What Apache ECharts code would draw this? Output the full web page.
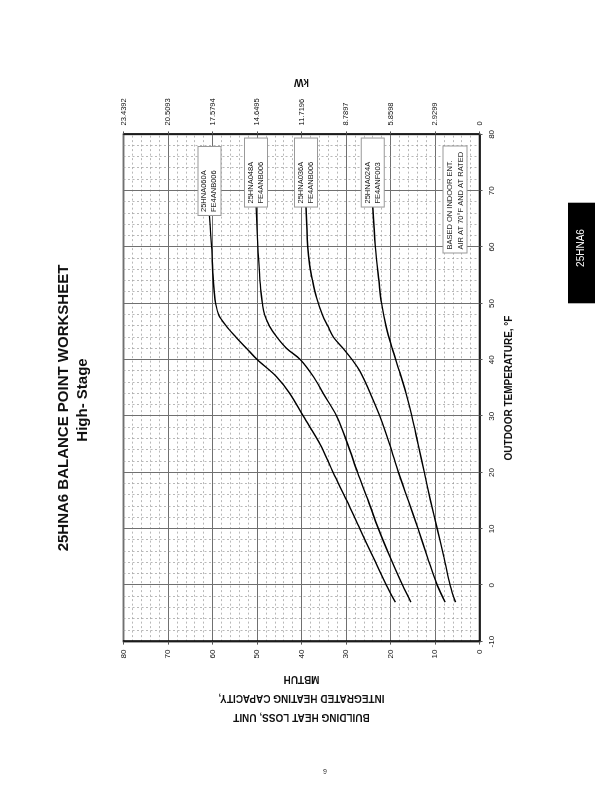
<!DOCTYPE html>
<html><head><meta charset="utf-8">
<script src="https://cdn.jsdelivr.net/npm/echarts@6/dist/echarts.min.js"></script>
<style>
html,body{margin:0;padding:0;background:#fff;width:612px;height:792px;overflow:hidden;}
#c{position:absolute;left:0;top:0;width:792px;height:612px;transform-origin:0 0;transform:translate(0,792px) rotate(-90deg);}
</style></head><body><div id="c"></div>
<script>
// Outdoor temperature (°F) vs integrated heating capacity (MBTUH)
const temp060 = [-3,0,5,10,15,20,25,30,34,37,40,42,44,46,48,50,52,55,60,65.7];
const cap060  = [18.9,20.9,23.9,26.9,29.8,32.9,35.8,39.6,42.6,45.6,49.9,52.3,54.7,56.9,58.6,59.3,59.6,59.9,60.2,60.7];
const temp048 = [-3,0,5,10,15,20,25,30,34,37,40,42,44,46,48,50,52,55,60,67.2];
const cap048  = [15.4,17.3,20.1,22.7,25.0,27.4,29.6,32.1,35.1,37.3,40.2,43.3,45.5,47.2,48.3,48.8,49.1,49.4,49.8,50.2];
const temp036 = [-3,0,5,10,15,20,25,30,34,38,40,42,44,46,48,51,54,57,60,67.2];
const cap036  = [7.7,9.5,11.7,13.8,16.0,18.2,20.2,22.4,24.5,26.9,28.6,30.6,32.8,34.1,35.3,36.6,37.5,38.2,38.6,39.0];
const temp024 = [-3,0,5,10,15,20,25,30,34,38,42,46,50,54,60,67.2];
const cap024  = [5.4,6.6,8.0,9.5,11.0,12.4,13.8,15.2,16.5,18.0,19.6,21.0,22.0,22.6,23.4,24.0];
const unitNames = ['25HNA060A\nFE4ANB006','25HNA048A\nFE4ANB006','25HNA036A\nFE4ANB006','25HNA024A\nFE4ANF003'];
const kwLabels = ['0','2.9299','5.8598','8.7897','11.7196','14.6495','17.5794','20.5093','23.4392'];

const FONT = '"Liberation Sans", Arial, Helvetica, sans-serif';
const chart = echarts.init(document.getElementById('c'));

function mk(t, c){ return t.map((v,i)=>[v,c[i]]); }
const seriesData = [mk(temp060,cap060), mk(temp048,cap048), mk(temp036,cap036), mk(temp024,cap024)];

const series = seriesData.map((d,i)=>({
  type:'line', data:d, smooth:0.35, showSymbol:false, symbol:'none',
  yAxisIndex:0, silent:true,
  lineStyle:{color:'#000', width:1.4},
  endLabel:{show:true, formatter:()=>unitNames[i], distance:0,
    fontFamily:FONT, fontSize:7.5, lineHeight:10, color:'#111',
    backgroundColor:'#fff', borderColor:'#999', borderWidth:1,
    padding:[1,3,1,3], width:62, align:'left'}
}));

const majorSplit = {show:true, lineStyle:{color:'#707070', width:1}};
const minorSplit = {show:true, lineStyle:{color:'#9a9a9a', width:0.7, type:[2,2.5]}};

chart.setOption({
  animation:false,
  backgroundColor:'#fff',
  grid:{left:150.4, right:134.4, top:123.5, bottom:132.5, show:true, borderColor:'#000', borderWidth:1.5, containLabel:false},
  xAxis:{type:'value', min:-10, max:80, interval:10,
    name:'OUTDOOR TEMPERATURE, °F', nameLocation:'middle', nameGap:25,
    nameTextStyle:{fontFamily:FONT, fontSize:10, fontWeight:'bold', color:'#111'},
    axisLine:{show:true, onZero:false, lineStyle:{color:'#000', width:1.5}},
    axisTick:{show:true, length:3, lineStyle:{color:'#555'}},
    axisLabel:{fontFamily:FONT, fontSize:8, color:'#111', margin:8},
    splitLine:majorSplit, minorTick:{show:false, splitNumber:5}, minorSplitLine:minorSplit},
  yAxis:[
    {type:'value', min:0, max:80, interval:10, position:'left',
     name:'BUILDING HEAT LOSS, UNIT\nINTEGRATED HEATING CAPACITY,\nMBTUH', nameLocation:'middle', nameGap:27, nameRotate:90,
     nameTextStyle:{fontFamily:FONT, fontSize:10, fontWeight:'bold', color:'#111', lineHeight:19},
     axisLine:{show:true, onZero:false, lineStyle:{color:'#000', width:1.5}},
     axisTick:{show:true, length:3, lineStyle:{color:'#555'}},
     axisLabel:{fontFamily:FONT, fontSize:8, color:'#111', margin:8},
     splitLine:majorSplit, minorTick:{show:false, splitNumber:5}, minorSplitLine:minorSplit},
    {type:'value', min:0, max:80, interval:10, position:'right',
     name:'kW', nameLocation:'middle', nameGap:48, nameRotate:90,
     nameTextStyle:{fontFamily:FONT, fontSize:10, fontWeight:'bold', color:'#111'},
     axisLine:{show:true, onZero:false, lineStyle:{color:'#000', width:1.5}},
     axisTick:{show:true, length:3, lineStyle:{color:'#555'}},
     axisLabel:{fontFamily:FONT, fontSize:7.5, color:'#111', margin:9,
       formatter:(v)=>kwLabels[Math.round(v/10)]},
     splitLine:{show:false}}
  ],
  series:series,
  graphic:[
    {type:'text', x:384, y:64, style:{text:'25HNA6 BALANCE POINT WORKSHEET', font:'bold 15px '+FONT, fill:'#111', align:'center', verticalAlign:'middle'}},
    {type:'text', x:392, y:83, style:{text:'High- Stage', font:'bold 15px '+FONT, fill:'#111', align:'center', verticalAlign:'middle'}},
    {type:'text', x:539.5, y:443.5, z:100, style:{text:'BASED ON INDOOR ENT.\nAIR AT 70°F AND AT RATED', font:'7.5px '+FONT, fill:'#111',
      backgroundColor:'#fff', borderColor:'#999', borderWidth:1, padding:[0.5,3,0.5,3], width:100, lineHeight:11}},
    {type:'rect', shape:{x:488.7, y:568, width:100.6, height:27}, style:{fill:'#000'}},
    {type:'text', x:544, y:581.5, style:{text:'25HNA6', font:'10px '+FONT, fill:'#fff', align:'center', verticalAlign:'middle'}},
    {type:'text', x:20, y:325, rotation:-Math.PI/2, style:{text:'9', font:'7px '+FONT, fill:'#222', align:'center', verticalAlign:'middle'}}
  ]
});
</script></body></html>
